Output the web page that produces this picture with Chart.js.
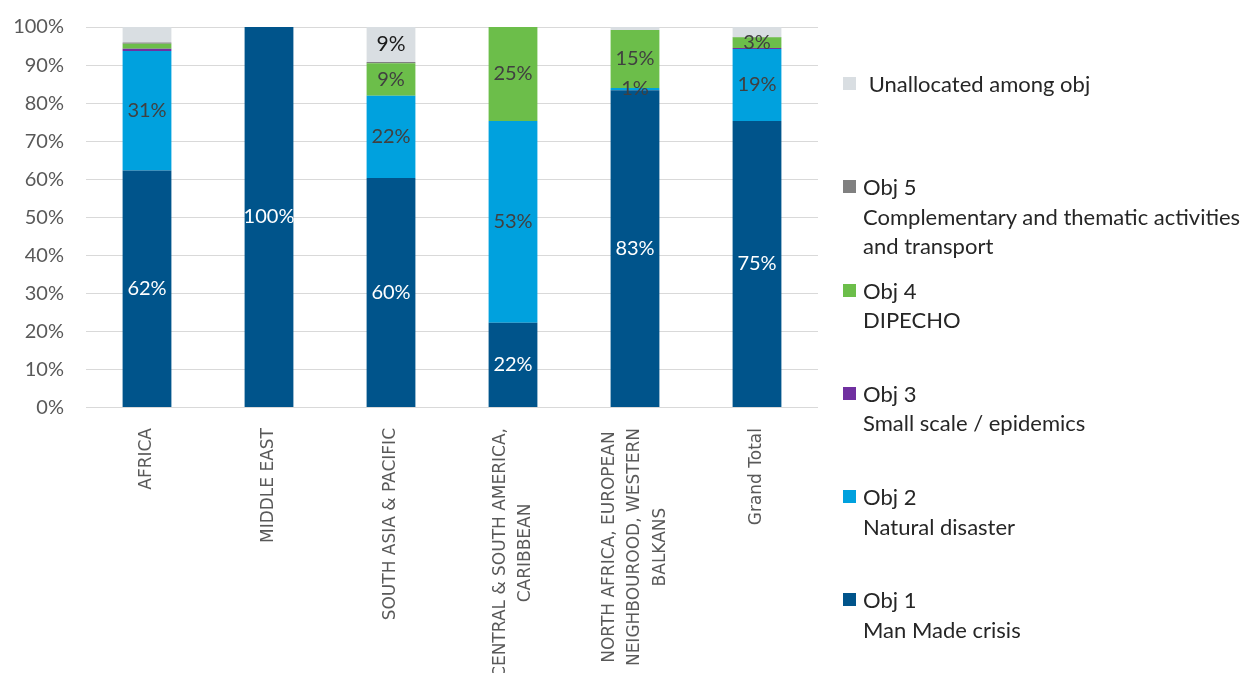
<!DOCTYPE html>
<html>
<head>
<meta charset="utf-8">
<title>Funding by objective</title>
<script src="https://cdn.jsdelivr.net/npm/chart.js@4.4.0/dist/chart.umd.min.js"></script>
<style>
  html, body { margin: 0; padding: 0; background: #fff; }
  #wrap { position: relative; width: 1248px; height: 673px; overflow: hidden; }
  #chart { position: absolute; left: 0; top: 0; }
  #legend { position: absolute; left: 843px; top: 0; font-family: Lato, sans-serif; font-size: 22px; color: #262626; }
  .item { position: absolute; left: 0; white-space: nowrap; line-height: 29.5px; }
  .box { position: absolute; left: 0; top: 8px; width: 13px; height: 13px; }
  .txt { position: absolute; left: 20px; top: 0; }
</style>
</head>
<body>
<div id="wrap">
  <canvas id="chart" width="1248" height="673"></canvas>
  <div id="legend"></div>
</div>
<script>
// regions along the x axis
const categories = [
    'AFRICA',
    'MIDDLE EAST',
    'SOUTH ASIA & PACIFIC',
    ['CENTRAL & SOUTH AMERICA,', 'CARIBBEAN'],
    ['NORTH AFRICA, EUROPEAN', 'NEIGHBOUROOD, WESTERN', 'BALKANS'],
    'Grand Total'
];

// share of each objective, in %
const obj1 = [62.3, 100, 60.3, 22.3, 83.4, 75.3];
const obj2 = [31.4, 0, 21.6, 53.0, 0.6, 18.9];
const obj3 = [0.6, 0, 0, 0, 0, 0.3];
const obj4 = [1.3, 0, 8.6, 24.7, 15.2, 2.8];
const obj5 = [0.3, 0, 0.3, 0, 0, 0.1];
const unallocated = [4.1, 0, 9.2, 0, 0.8, 2.6];

// which segments carry a value label
const obj1Labels = [true, true, true, true, true, true];
const obj2Labels = [true, false, true, true, true, true];
const obj3Labels = [false, false, false, false, false, false];
const obj4Labels = [false, false, true, true, true, true];
const obj5Labels = [false, false, false, false, false, false];
const unallocatedLabels = [false, false, true, false, false, false];

const yTicks = [0, 10, 20, 30, 40, 50, 60, 70, 80, 90, 100];

const series = [
    { name: ['Obj 1', 'Man Made crisis'], data: obj1, labels: obj1Labels, color: '#00548B', text: '#ffffff' },
    { name: ['Obj 2', 'Natural disaster'], data: obj2, labels: obj2Labels, color: '#00A1DE', text: '#404040' },
    { name: ['Obj 3', 'Small scale / epidemics'], data: obj3, labels: obj3Labels, color: '#7030A0', text: '#404040' },
    { name: ['Obj 4', 'DIPECHO'], data: obj4, labels: obj4Labels, color: '#6CBE4A', text: '#404040' },
    { name: ['Obj 5', 'Complementary and thematic activities', 'and transport'], data: obj5, labels: obj5Labels, color: '#808080', text: '#404040' },
    { name: [' Unallocated among obj'], data: unallocated, labels: unallocatedLabels, color: '#D9DEE2', text: '#1a1a1a' }
];

// percentages written in the middle of each segment
const barLabels = {
    id: 'barLabels',
    afterDatasetsDraw(chart) {
        const c = chart.ctx;
        c.save();
        c.textAlign = 'center';
        c.textBaseline = 'middle';
        series.forEach((s, di) => {
            const meta = chart.getDatasetMeta(di);
            meta.data.forEach((bar, i) => {
                if (!s.labels[i]) return;
                c.font = (s.data === unallocated ? '21px' : '20px') + ' Lato, sans-serif';
                c.fillStyle = s.text;
                c.fillText(Math.round(s.data[i]) + '%', bar.x, (bar.y + bar.base) / 2);
            });
        });
        c.restore();
    }
};

// vertical category names, lines centred on each other
const categoryLabels = {
    id: 'categoryLabels',
    afterDraw(chart) {
        const c = chart.ctx;
        const xScale = chart.scales.x;
        c.save();
        c.font = '17px "DejaVu Sans", sans-serif';
        c.fillStyle = '#595959';
        c.textBaseline = 'middle';
        c.textAlign = 'center';
        categories.forEach((cat, i) => {
            const lines = Array.isArray(cat) ? cat : [cat];
            const x = xScale.getPixelForValue(i);
            c.save();
            c.translate(x, 428);
            c.rotate(-Math.PI / 2);
            const maxW = Math.max(...lines.map(l => c.measureText(l).width));
            lines.forEach((l, j) => {
                c.fillText(l, -maxW / 2, (j - (lines.length - 1) / 2) * 25.5);
            });
            c.restore();
        });
        c.restore();
    }
};

new Chart(document.getElementById('chart'), {
    type: 'bar',
    data: {
        labels: categories,
        datasets: series.map(s => ({
            label: s.name.join(' '),
            data: s.data,
            backgroundColor: s.color,
            borderWidth: 0,
            barPercentage: 0.8,
            categoryPercentage: 0.5
        }))
    },
    options: {
        responsive: false,
        animation: false,
        layout: { padding: { top: 27, right: 430, left: 0, bottom: 0 } },
        plugins: {
            legend: { display: false },
            tooltip: { enabled: false }
        },
        scales: {
            x: {
                stacked: true,
                grid: { display: false },
                border: { display: false },
                ticks: { display: false },
                afterFit(scale) { scale.height = 265.5; }
            },
            y: {
                stacked: true,
                min: 0,
                max: 100,
                afterBuildTicks(scale) { scale.ticks = yTicks.map(v => ({ value: v })); },
                afterFit(scale) {
                    scale.width = 86;
                    scale.paddingTop = 0;
                    scale.paddingBottom = 0;
                },
                grid: { color: '#D9D9D9', lineWidth: 1, drawTicks: false },
                border: { display: false },
                ticks: {
                    padding: 22,
                    color: '#595959',
                    font: { family: 'Lato, sans-serif', size: 20 },
                    callback: v => v + '%'
                }
            }
        }
    },
    plugins: [barLabels, categoryLabels]
});

// legend on the right, top item first
const legend = document.getElementById('legend');
series.slice().reverse().forEach((s, i) => {
    const item = document.createElement('div');
    item.className = 'item';
    item.style.top = (84 + 103.2 * i - 14.75) + 'px';
    const box = document.createElement('div');
    box.className = 'box';
    box.style.background = s.color;
    const txt = document.createElement('div');
    txt.className = 'txt';
    txt.innerHTML = s.name.map(l => l.replace(/ /g, '&nbsp;')).join('<br>');
    item.appendChild(box);
    item.appendChild(txt);
    legend.appendChild(item);
});
</script>
</body>
</html>
